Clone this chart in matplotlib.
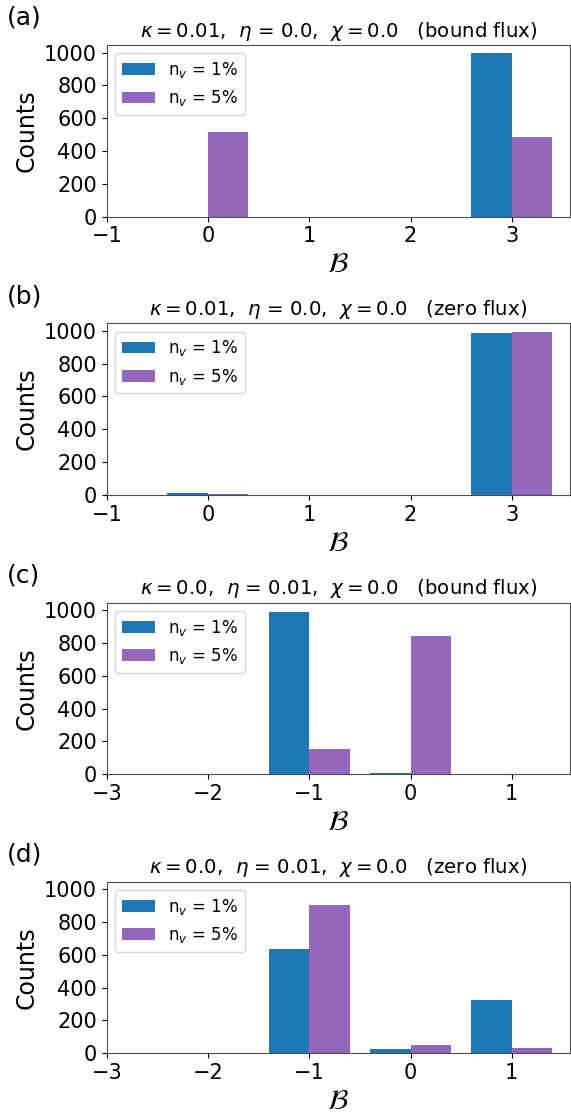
import matplotlib
matplotlib.use("Agg")
import matplotlib.pyplot as plt
import numpy as np

# winding numbers (B) and counts for n_v = 1% and n_v = 5%
b_ab = [-1, 0, 1, 2, 3]
b_cd = [-3, -2, -1, 0, 1]

counts_a_1 = [0, 0, 0, 0, 998]
counts_a_5 = [0, 513, 0, 0, 487]

counts_b_1 = [0, 12, 0, 0, 984]
counts_b_5 = [0, 5, 0, 0, 994]

counts_c_1 = [0, 0, 988, 6, 0]
counts_c_5 = [0, 0, 155, 843, 0]

counts_d_1 = [0, 0, 637, 26, 322]
counts_d_5 = [0, 0, 902, 53, 35]

titles = [
    r"$\kappa = 0.01$,  $\eta$ = 0.0,  $\chi = 0.0$   (bound flux)",
    r"$\kappa = 0.01$,  $\eta$ = 0.0,  $\chi = 0.0$   (zero flux)",
    r"$\kappa = 0.0$,  $\eta$ = 0.01,  $\chi = 0.0$   (bound flux)",
    r"$\kappa = 0.0$,  $\eta$ = 0.01,  $\chi = 0.0$   (zero flux)",
]
panel_labels = ["(a)", "(b)", "(c)", "(d)"]

panels = [
    (b_ab, counts_a_1, counts_a_5, (-1, 3.575)),
    (b_ab, counts_b_1, counts_b_5, (-1, 3.575)),
    (b_cd, counts_c_1, counts_c_5, (-3, 1.575)),
    (b_cd, counts_d_1, counts_d_5, (-3, 1.575)),
]

fig = plt.figure(figsize=(5.71, 11.17), dpi=100)

W, H = 571, 1117
left, right = 106.7, 570
tops = [45, 323.3, 602.7, 881.7]
height = 171.6

width = 0.4
for i, (bvals, c1, c5, xlim) in enumerate(panels):
    top = tops[i]
    ax = fig.add_axes([left / W, 1 - (top + height) / H, (right - left) / W, height / H])
    x = np.array(bvals)
    ax.bar(x - width / 2, c1, width, color="#1f77b4", label=r"n$_v$ = 1%")
    ax.bar(x + width / 2, c5, width, color="#9467bd", label=r"n$_v$ = 5%")
    ax.set_xlim(*xlim)
    ax.set_ylim(0, 1046)
    ax.set_xticks(x[x <= xlim[1]])
    ax.set_yticks([0, 200, 400, 600, 800, 1000])
    ax.tick_params(labelsize=15)
    ax.set_ylabel("Counts", fontsize=17)
    ax.set_xlabel(r"$\mathcal{B}$", fontsize=20, labelpad=3)
    ax.set_title(titles[i], fontsize=14.2)
    for sp in ax.spines.values():
        sp.set_color("0.3")
    ax.legend(loc="upper left", fontsize=12)
    fig.text(7 / W, 1 - (top - 27) / H, panel_labels[i], fontsize=18,
             ha="left", va="center")

fig.savefig("out.png", dpi=100)
